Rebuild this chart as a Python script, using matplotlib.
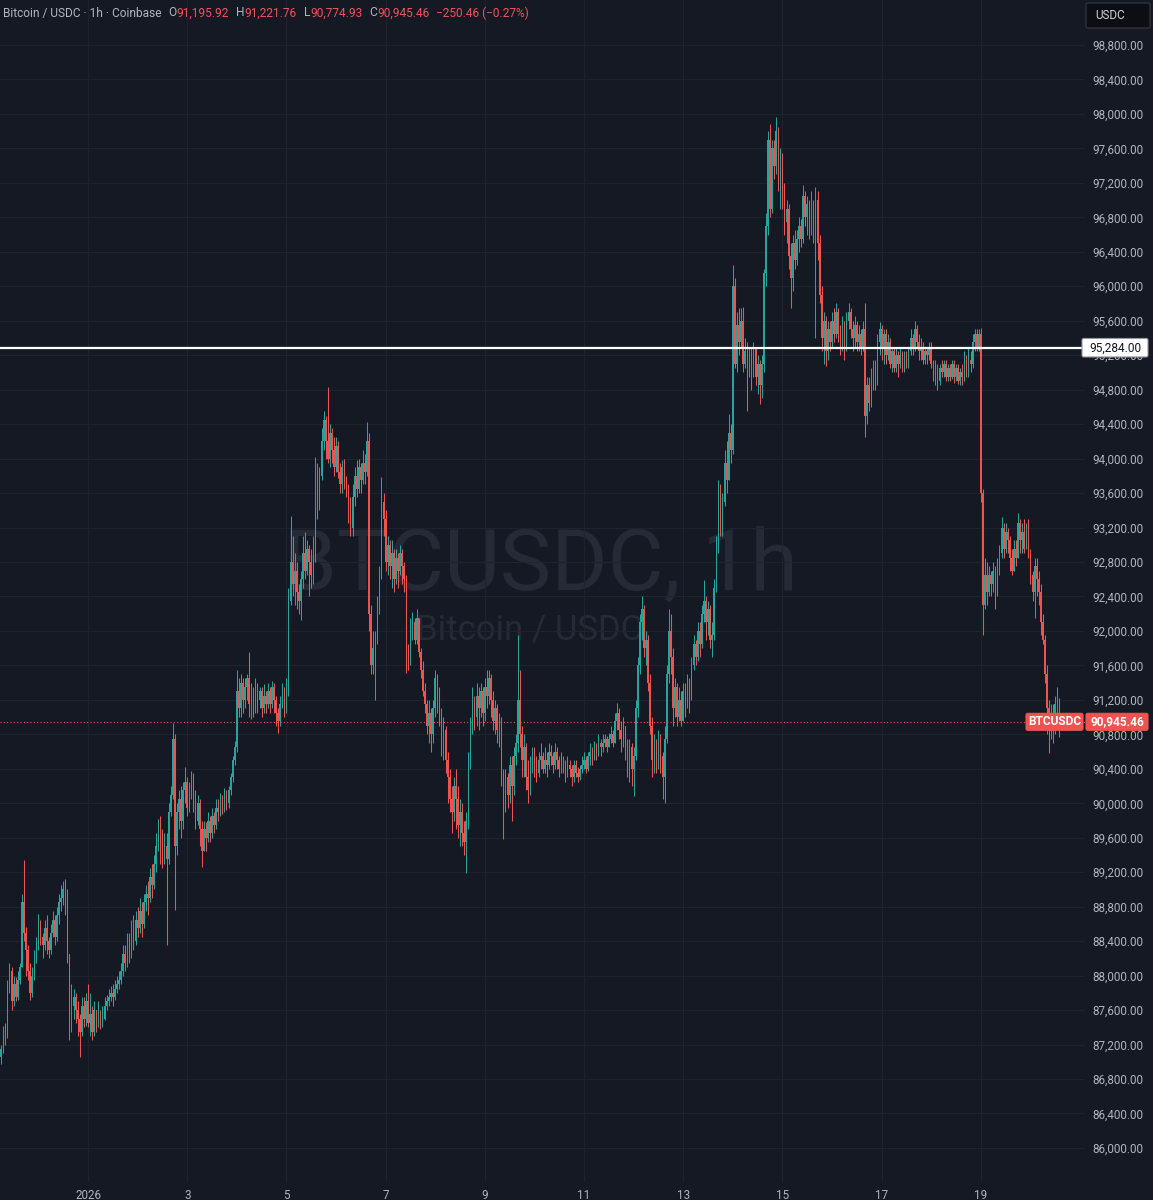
import numpy as np
import pandas as pd
import matplotlib
matplotlib.use("Agg")
import matplotlib.pyplot as plt
from matplotlib.patches import FancyBboxPatch
from matplotlib.ticker import FuncFormatter

plt.rcParams['font.family'] = ['Roboto', 'DejaVu Sans']

# hourly BTC/USDC candles, 30 Dec 2025 06:00 -> 20 Jan 2026 14:00
first_open = 87050
closes = [
    87150, 87380, 87300, 87850, 88050, 87700, 87900, 87750, 87950, 88100,
    88850, 88500, 88300, 88050, 87800, 88000, 88200, 88350, 88600, 88450,
    88350, 88550, 88400, 88300, 88500, 88650, 88450, 88700, 88850, 88900,
    89000, 88950, 88250, 87450, 87650, 87750, 87600, 87500, 87350, 87650,
    87500, 87700, 87450, 87550, 87350, 87600, 87450, 87550, 87450, 87500,
    87650, 87700, 87750, 87800, 87750, 87850, 87900, 87950, 88050, 88250,
    88150, 88400, 88250, 88550, 88400, 88650, 88550, 88750, 88600, 88850,
    88950, 88900, 89150, 89050, 89300, 89500, 89750, 89600, 89400, 89500,
    89350, 89900, 90100, 90750, 89500, 89900, 90050, 89800, 90150, 90250,
    89950, 90150, 90300, 90100, 89800, 90000, 89700, 89450, 89700, 89600,
    89800, 89650, 89850, 89750, 89950, 89900, 90050, 89950, 90100, 90000,
    90150, 90300, 90500, 90650, 91300, 91100, 91400, 91200, 91350, 91450,
    91150, 91300, 91100, 91350, 91200, 91300, 91100, 91250, 91150, 91300,
    91150, 91350, 91200, 91050, 90950, 91150, 91250, 91100, 91300, 92350,
    92800, 92550, 92700, 92450, 92350, 92600, 92900, 92700, 92950, 92800,
    92650, 92900, 93900, 93500, 93800, 94200, 94450, 94200, 94000, 94300,
    94100, 93900, 94150, 93850, 93700, 93900, 93750, 93600, 93400, 93200,
    93550, 93800, 93650, 93900, 93750, 93950, 93850, 94200, 92200, 91600,
    91800, 91900, 92300, 92650, 93500, 93300, 92800, 93000, 92750, 92900,
    92600, 92850, 92700, 92900, 92750, 92600, 91700, 91650, 92000, 92100,
    91900, 92150, 91750, 91550, 91300, 91150, 90900, 91050, 90800, 91100,
    91450, 91300, 91000, 90700, 90850, 90500, 90300, 90050, 89900, 90200,
    90050, 89750, 89900, 89650, 89550, 89800, 90500, 90900, 91200, 91000,
    91250, 91100, 91300, 91050, 91350, 91250, 91450, 91200, 90950, 91100,
    90850, 90950, 90350, 90000, 90300, 90100, 90450, 90200, 90550, 90700,
    91200, 90800, 90500, 90650, 90300, 90150, 90400, 90550, 90450, 90350,
    90500, 90550, 90400, 90500, 90450, 90600, 90550, 90450, 90600, 90500,
    90400, 90500, 90450, 90350, 90450, 90400, 90300, 90450, 90350, 90300,
    90400, 90450, 90500, 90400, 90550, 90600, 90550, 90650, 90600, 90700,
    90650, 90700, 90750, 90650, 90750, 90800, 90700, 90950, 91050, 90850,
    90750, 90900, 90650, 90500, 90650, 90400, 90550, 91100, 91600, 92100,
    92250, 91800, 91900, 91400, 90900, 90500, 90700, 90450, 90750, 90550,
    90300, 90750, 91500, 92000, 91700, 91100, 91350, 91000, 91200, 90950,
    91300, 91150, 91400, 91250, 91600, 91850, 91700, 92000, 91850, 92200,
    92350, 92100, 92250, 91900, 91950, 92500, 93000, 93600, 93150, 93500,
    93950, 93750, 94300, 94100, 96000, 95100, 95550, 95350, 95600, 95100,
    95250, 95050, 95250, 95100, 95300, 94950, 95100, 94850, 95100, 96150,
    96700, 97700, 96900, 97600, 97400, 97800, 97200, 97500, 97000, 96750,
    96900, 96350, 96100, 96500, 96300, 96550, 96700, 96550, 97050, 96800,
    96950, 96700, 96900, 96600, 97000, 96500, 95900, 95400, 95600, 95250,
    95500, 95350, 95600, 95450, 95700, 95450, 95350, 95550, 95300, 95600,
    95700, 95500, 95400, 95550, 95350, 95450, 95300, 95500, 94500, 94850,
    94650, 94950, 95100, 94900, 95350, 95500, 95300, 95450, 95200, 95350,
    95100, 95250, 95050, 95200, 95100, 95200, 95050, 95200, 95100, 95250,
    95400, 95300, 95500, 95350, 95250, 95300, 95150, 95250, 95200, 95300,
    95100, 94950, 95050, 94900, 95050, 95000, 95100, 94950, 95050, 94950,
    95100, 94950, 95050, 94900, 95000, 94950, 95150, 95000, 95150, 95100,
    95350, 95450, 95300, 95450, 93600, 92300, 92650, 92450, 92650, 92550,
    92700, 92500, 92750, 92900, 93200, 92950, 93150, 93050, 92850, 92700,
    92950, 92850, 93250, 93050, 93150, 92950, 93150, 92900, 92650, 92450,
    92750, 92600, 92450, 92100, 91900, 91500, 91100, 90900, 91050, 90850,
    91150, 91195.92, 90945.46,
]
highs = [
    87200, 87420, 87450, 87950, 88150, 88100, 88000, 87980, 88050, 88150,
    88950, 89340, 88560, 88350, 88150, 88100, 88300, 88450, 88720, 88650,
    88500, 88650, 88700, 88450, 88600, 88750, 88700, 88800, 88950, 89050,
    89100, 89120, 89000, 88250, 87900, 87850, 87800, 87700, 87550, 87750,
    87750, 87800, 87900, 87800, 87650, 87700, 87600, 87700, 87600, 87650,
    87750, 87780, 87850, 87880, 87900, 87950, 88000, 88050, 88150, 88350,
    88350, 88500, 88500, 88650, 88700, 88750, 88800, 88900, 88850, 88950,
    89050, 89100, 89250, 89300, 89400, 89650, 89820, 89850, 89700, 89650,
    89650, 90000, 90200, 90930, 90800, 90000, 90150, 90200, 90250, 90420,
    90300, 90250, 90380, 90350, 90150, 90100, 90050, 89800, 89800, 89780,
    89900, 89850, 89950, 89900, 90050, 90050, 90120, 90100, 90180, 90150,
    90200, 90350, 90550, 90720, 91550, 91450, 91500, 91450, 91450, 91500,
    91750, 91400, 91350, 91450, 91400, 91350, 91350, 91380, 91300, 91400,
    91350, 91420, 91400, 91250, 91100, 91250, 91400, 91350, 91450, 92500,
    93330, 93100, 92900, 92800, 92550, 92700, 93100, 93150, 93050, 93000,
    92950, 93100, 94020, 93950, 93900, 94350, 94550, 94500, 94830, 94400,
    94350, 94250, 94250, 94200, 93950, 93980, 94000, 93800, 93700, 93550,
    93700, 93900, 93980, 93990, 93950, 94100, 94050, 94430, 94300, 92300,
    92000, 92000, 92400, 92750, 93790, 93600, 93400, 93100, 93050, 93050,
    92950, 92950, 92900, 93000, 92950, 92800, 92650, 91850, 92150, 92220,
    92150, 92250, 92150, 91800, 91650, 91400, 91200, 91200, 91100, 91200,
    91550, 91500, 91350, 91100, 91000, 90900, 90600, 90400, 90200, 90300,
    90400, 90200, 90050, 90000, 89800, 89900, 90600, 91000, 91350, 91250,
    91400, 91350, 91400, 91350, 91450, 91550, 91550, 91500, 91300, 91200,
    91150, 91050, 91000, 90400, 90400, 90350, 90550, 90550, 90650, 90800,
    91950, 91550, 90900, 90800, 90700, 90500, 90550, 90650, 90650, 90550,
    90600, 90700, 90600, 90650, 90600, 90700, 90680, 90600, 90700, 90650,
    90550, 90600, 90550, 90500, 90550, 90500, 90450, 90500, 90500, 90420,
    90450, 90550, 90600, 90550, 90600, 90700, 90650, 90720, 90700, 90800,
    90750, 90800, 90800, 90780, 90820, 90900, 90850, 91050, 91165, 91100,
    90950, 91000, 90900, 90750, 90750, 90700, 90650, 91200, 91700, 92200,
    92400, 92300, 92000, 91950, 91500, 91000, 90800, 90750, 90850, 90800,
    90600, 90900, 91600, 92250, 92200, 91800, 91450, 91400, 91350, 91300,
    91400, 91400, 91500, 91450, 91700, 91950, 91900, 92100, 92100, 92300,
    92590, 92400, 92350, 92300, 92100, 92600, 93100, 93750, 93700, 93600,
    94100, 94200, 94520, 94400, 96250, 96100, 95700, 95750, 95750, 95760,
    95400, 95350, 95300, 95300, 95350, 95250, 95200, 95150, 95200, 96200,
    96850, 97800, 97880, 97700, 97700, 97965, 97850, 97600, 97550, 97200,
    97000, 96950, 96500, 96600, 96650, 96650, 96800, 96780, 97180, 97100,
    97050, 97000, 97100, 97000, 97150, 97100, 96600, 96000, 95700, 95650,
    95600, 95600, 95700, 95750, 95800, 95750, 95550, 95650, 95600, 95700,
    95800, 95750, 95600, 95650, 95600, 95550, 95500, 95600, 95800, 94950,
    94950, 95050, 95150, 95150, 95450, 95580, 95550, 95500, 95500, 95450,
    95400, 95300, 95300, 95300, 95250, 95280, 95250, 95250, 95250, 95300,
    95500, 95450, 95600, 95550, 95450, 95400, 95350, 95300, 95300, 95350,
    95350, 95150, 95150, 95100, 95100, 95150, 95150, 95150, 95100, 95100,
    95150, 95150, 95100, 95100, 95050, 95100, 95250, 95200, 95300, 95250,
    95450, 95500, 95500, 95500, 95520, 93650, 92850, 92800, 92750, 92700,
    92800, 92750, 92850, 93000, 93320, 93250, 93250, 93200, 93100, 92950,
    93050, 93050, 93370, 93300, 93250, 93300, 93250, 93300, 92950, 92700,
    92850, 92850, 92700, 92550, 92200, 91950, 91600, 91200, 91150, 91150,
    91250, 91350, 91221.76,
]
lows = [
    86980, 87100, 87200, 87280, 87800, 87600, 87650, 87700, 87720, 87900,
    88100, 88400, 88000, 87950, 87720, 87750, 87950, 88150, 88300, 88350,
    88200, 88300, 88250, 88200, 88250, 88450, 88350, 88400, 88600, 88750,
    88820, 88700, 88150, 87250, 87350, 87500, 87450, 87300, 87060, 87300,
    87400, 87420, 87400, 87300, 87250, 87300, 87350, 87400, 87380, 87400,
    87480, 87600, 87650, 87700, 87650, 87720, 87800, 87850, 87900, 88000,
    88050, 88100, 88150, 88200, 88300, 88350, 88450, 88500, 88450, 88550,
    88750, 88700, 88850, 88900, 89000, 89200, 89450, 89300, 89250, 89300,
    88360, 89300, 89850, 90050, 88760, 89400, 89700, 89600, 89700, 90000,
    89850, 89900, 90050, 89900, 89700, 89750, 89500, 89260, 89500, 89450,
    89550, 89550, 89600, 89650, 89700, 89800, 89850, 89880, 89900, 89920,
    89950, 90100, 90250, 90450, 90600, 91000, 91000, 91050, 91100, 91200,
    91000, 90980, 91000, 91050, 91050, 91100, 91000, 91050, 91050, 91100,
    91050, 91100, 91050, 90900, 90820, 90900, 91100, 91000, 91050, 91250,
    92300, 92400, 92300, 92250, 92200, 92130, 92500, 92600, 92650, 92400,
    92500, 92550, 92800, 93300, 93400, 93750, 94100, 94000, 93950, 93900,
    93950, 93800, 93850, 93780, 93600, 93600, 93650, 93550, 93250, 93100,
    93100, 93450, 93550, 93600, 93600, 93700, 93700, 93800, 92000, 91500,
    91500, 91200, 91850, 92200, 92600, 93100, 92700, 92650, 92600, 92500,
    92450, 92550, 92500, 92650, 92550, 92450, 91510, 91550, 91600, 91900,
    91850, 91850, 91700, 91450, 91250, 91050, 90800, 90700, 90600, 90700,
    91000, 91050, 90900, 90550, 90500, 90350, 90000, 89900, 89650, 89800,
    89700, 89600, 89500, 89500, 89400, 89190, 89700, 90400, 90800, 90850,
    90900, 90850, 91000, 90900, 90950, 91100, 91150, 91000, 90850, 90800,
    90700, 90650, 90200, 89580, 89900, 89950, 90000, 89800, 90100, 90450,
    90600, 90650, 90300, 90300, 90150, 90000, 90100, 90350, 90300, 90250,
    90300, 90400, 90350, 90350, 90300, 90400, 90450, 90350, 90400, 90400,
    90300, 90350, 90350, 90250, 90300, 90300, 90200, 90250, 90300, 90250,
    90270, 90350, 90400, 90350, 90380, 90450, 90450, 90500, 90500, 90550,
    90550, 90600, 90650, 90600, 90650, 90700, 90650, 90700, 90850, 90750,
    90600, 90650, 90500, 90300, 90250, 90200, 90080, 90500, 91000, 91500,
    91900, 91700, 91600, 91300, 90800, 90300, 90350, 90350, 90400, 90350,
    90050, 90000, 90700, 91400, 91500, 90900, 91000, 90900, 90950, 90900,
    90950, 91000, 91100, 91050, 91200, 91550, 91600, 91650, 91700, 91800,
    92100, 91900, 91950, 91800, 91700, 91900, 92450, 92900, 93100, 93100,
    93450, 93600, 93900, 93950, 94050, 95050, 95000, 95200, 95300, 95000,
    95050, 94550, 94950, 94800, 94950, 94850, 94750, 94630, 94700, 95000,
    96000, 96600, 96800, 96850, 97250, 97300, 97100, 96900, 96900, 96600,
    96500, 96200, 95750, 95950, 96200, 96250, 96400, 96450, 96500, 96700,
    96600, 96550, 96600, 96500, 95400, 96300, 95800, 95250, 95100, 95080,
    95150, 95250, 95300, 95350, 95400, 95350, 95200, 95250, 95150, 95250,
    95500, 95400, 95250, 95300, 95250, 95250, 95200, 95250, 94250, 94400,
    94550, 94600, 94800, 94800, 94850, 95200, 95150, 95100, 95100, 95150,
    95050, 95000, 95000, 95000, 94950, 95050, 95000, 95000, 95050, 95050,
    95200, 95200, 95250, 95300, 95150, 95150, 95100, 95100, 95100, 95150,
    95050, 94900, 94850, 94800, 94850, 94950, 94950, 94900, 94900, 94900,
    94920, 94880, 94900, 94870, 94850, 94850, 94900, 94950, 94950, 95000,
    95050, 95250, 95250, 95250, 93500, 91950, 92250, 92300, 92400, 92400,
    92450, 92250, 92400, 92650, 92850, 92850, 92900, 92900, 92700, 92650,
    92700, 92750, 92850, 92900, 92900, 92900, 92950, 92850, 92550, 92350,
    92150, 92400, 92300, 91950, 91850, 91400, 90800, 90580, 90750, 90700,
    90800, 90900, 90774.93,
]

price_ticks = list(range(86000, 99000, 400))
marked_level = 95284.00
tick_days = [1, 3, 5, 7, 9, 11, 13, 15, 17, 19]

BG = '#151924'
GRID = '#1f232e'
TXT = '#b2b5be'
UP = '#26a69a'
DOWN = '#ef5350'

times = pd.date_range('2025-12-30 06:00', periods=len(closes), freq='h')
c = np.array(closes, dtype=float)
o = np.concatenate([[first_open], c[:-1]])
h = np.maximum(np.array(highs, dtype=float), np.maximum(o, c))
l = np.minimum(np.array(lows, dtype=float), np.minimum(o, c))
idx = np.arange(len(c))
up = c >= o
cols = np.where(up, UP, DOWN)

W, H = 1153, 1200
fig = plt.figure(figsize=(W / 100, H / 100), dpi=100, facecolor=BG)
ax = fig.add_axes([0, 18 / H, 1085 / W, 1182 / H], facecolor=BG)

ax.set_xlim(-0.58, 524.4)
ax.set_ylim(85605, 99322)


def px_box(x0, y0, x1, y1, fc, ec, z=6):
    # rectangle given in picture pixels (top-left origin)
    p = FancyBboxPatch((x0 / W, 1 - y1 / H), (x1 - x0) / W, (y1 - y0) / H,
                       boxstyle='round,pad=0,rounding_size=0.0015',
                       transform=fig.transFigure, fc=fc, ec=ec, lw=0.8, zorder=z)
    fig.patches.append(p)


def price_to_py(v):
    return 1182 - (v - 85605) / (99322 - 85605) * 1182


# watermark
ax.text(0.498, 0.521, 'BTCUSDC, 1h', transform=ax.transAxes, ha='center', va='center',
        fontsize=62, color='#262a36', zorder=0.5)
ax.text(0.488, 0.467, 'Bitcoin / USDC', transform=ax.transAxes, ha='center', va='center',
        fontsize=25, color='#262a36', zorder=0.5)

# candles
ax.vlines(idx, l, h, colors=cols, linewidth=0.75, zorder=2)
body = np.maximum(np.abs(c - o), 12)
ax.bar(idx, body, bottom=np.minimum(o, c), width=0.72, color=cols, linewidth=0, zorder=3)

# grid / ticks
tick_pos = [np.where((times.month == 1) & (times.day == d) & (times.hour == 0))[0][0] for d in tick_days]
tick_lab = ['2026' if d == 1 else str(d) for d in tick_days]
ax.set_xticks(tick_pos)
ax.set_xticklabels(tick_lab)
ax.set_yticks(price_ticks)
ax.yaxis.set_major_formatter(FuncFormatter(lambda v, p: f'{v:,.2f}'))
ax.yaxis.tick_right()
ax.grid(True, color=GRID, linewidth=0.8, zorder=0)
ax.set_axisbelow(True)
ax.tick_params(axis='both', length=0, labelsize=8.4, labelcolor=TXT)
ax.tick_params(axis='y', pad=5)
ax.tick_params(axis='x', pad=5)
for s in ax.spines.values():
    s.set_visible(False)

# marked horizontal level with its axis label
ax.axhline(marked_level, color='white', linewidth=1.6, zorder=4)
ym = price_to_py(marked_level)
px_box(1082, ym - 9.5, 1148, ym + 9, 'white', '#9598a1')
fig.text(1115 / W, 1 - ym / H, f'{marked_level:,.2f}', ha='center', va='center',
         fontsize=8.6, color='#131722', zorder=7)

# last price line and labels
last_o, last_h, last_l, last_c = o[-1], h[-1], l[-1], c[-1]
ax.axhline(last_c, color=DOWN, linewidth=0.8, linestyle=(0, (1, 2)), zorder=1.5)
yl = price_to_py(last_c)
px_box(1086, yl - 8.5, 1148, yl + 8.5, DOWN, DOWN)
fig.text(1117 / W, 1 - yl / H, f'{last_c:,.2f}', ha='center', va='center',
         fontsize=8.6, color='white', fontweight='bold', zorder=7)
px_box(1026, yl - 8.5, 1083, yl + 8.5, DOWN, DOWN)
fig.text(1054.5 / W, 1 - yl / H, 'BTCUSDC', ha='center', va='center',
         fontsize=8.6, color='white', fontweight='bold', zorder=7)

# header line
chg = last_c - last_o
pct = chg / last_o * 100
RED = '#f0525b'
parts = [
    ('O', TXT, 7), (f'{last_o:,.2f}', RED, 0),
    ('H', TXT, 7), (f'{last_h:,.2f}', RED, 0),
    ('L', TXT, 7), (f'{last_l:,.2f}', RED, 0),
    ('C', TXT, 7), (f'{last_c:,.2f}', RED, 0),
    (f'\u2212{abs(chg):,.2f} (\u2212{abs(pct):.2f}%)', RED, 7),
]
prev = fig.text(3 / W, 1 - 13 / H, 'Bitcoin / USDC · 1h · Coinbase', color=TXT,
                fontsize=8.6, ha='left', va='center')
for txt, col, gap in parts:
    prev = ax.annotate(txt, xy=(1, 0.5), xycoords=prev, xytext=(gap, 0),
                       textcoords='offset pixels', ha='left', va='center',
                       fontsize=8.6, color=col, annotation_clip=False)

# currency box top right
px_box(1086, 3, 1150, 28, '#0c0e13', '#363a45')
fig.text(1095 / W, 1 - 15.5 / H, 'USDC', color='#d1d4dc', fontsize=8.4, ha='left', va='center', zorder=7)

fig.savefig('out.png', dpi=100, facecolor=BG)
